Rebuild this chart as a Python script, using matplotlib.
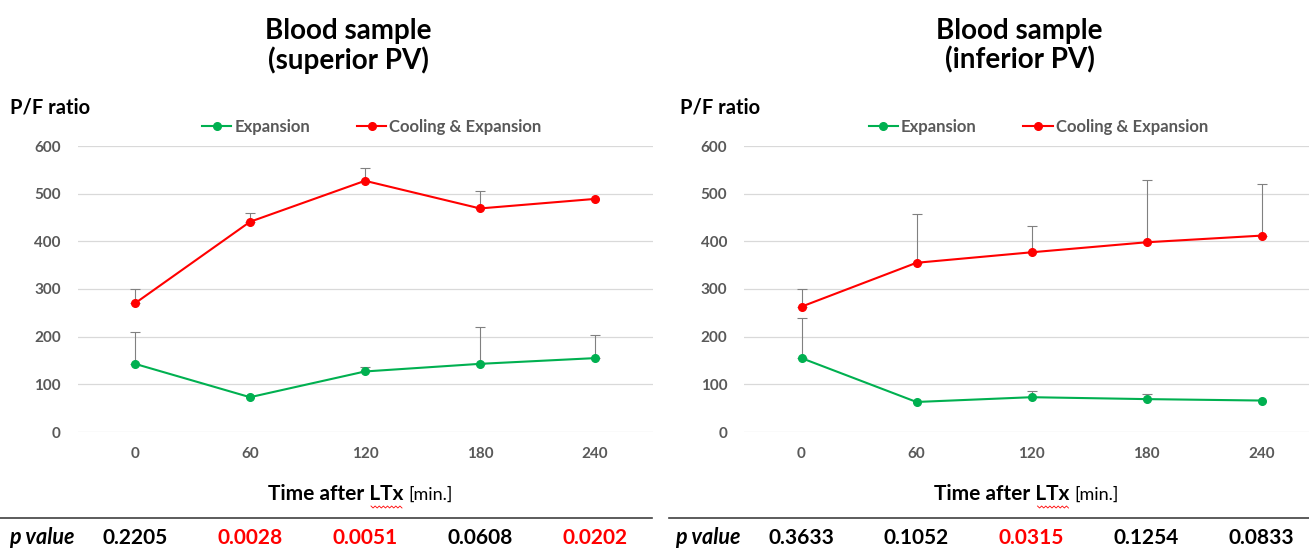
import numpy as np
import matplotlib.pyplot as plt
from matplotlib.lines import Line2D
import matplotlib.transforms as mtransforms

plt.rcParams['font.family'] = ['Lato', 'DejaVu Sans']

# ---- data -------------------------------------------------------------
time_labels = ['0', '60', '120', '180', '240']

sup_exp_mean = [143, 73, 127, 143, 155]
sup_exp_sd = [66, np.nan, 9, 77, 48]
sup_cool_mean = [270, 441, 527, 469, 489]
sup_cool_sd = [30, 19, 27, 37, np.nan]

inf_exp_mean = [155, 63, 73, 69, 66]
inf_exp_sd = [84, np.nan, 14, 10, np.nan]
inf_cool_mean = [263, 355, 377, 398, 412]
inf_cool_sd = [37, 103, 55, 131, 108]

sup_p = [0.2205, 0.0028, 0.0051, 0.0608, 0.0202]
inf_p = [0.3633, 0.1052, 0.0315, 0.1254, 0.0833]

titles = ['Blood sample\n(superior PV)', 'Blood sample\n(inferior PV)']

# ---- styling ----------------------------------------------------------
GREEN = '#00B050'
RED = '#FF0000'
GRAY_TXT = '#595959'
GRID = '#D9D9D9'
ERR = '#808080'

W, H = 1309, 549
fig = plt.figure(figsize=(W / 100, H / 100), dpi=100)


def px(x, y):
    """pixel position -> figure fraction"""
    return x / W, 1 - y / H


def panel(left_px, exp_mean, exp_sd, cool_mean, cool_sd, pvals, title):
    ax_w, top, bot = 575, 146, 432
    ax = fig.add_axes([left_px / W, 1 - bot / H, ax_w / W, (bot - top) / H])
    x = np.arange(len(time_labels))

    for mean, sd, col, lab in [(exp_mean, exp_sd, GREEN, 'Expansion'),
                               (cool_mean, cool_sd, RED, 'Cooling & Expansion')]:
        mean = np.asarray(mean, float)
        sd = np.asarray(sd, float)
        ok = np.isfinite(sd)
        ax.errorbar(x[ok], mean[ok], yerr=[np.zeros(ok.sum()), sd[ok]],
                    fmt='none', ecolor=ERR, elinewidth=0.8, capsize=3.5,
                    capthick=0.8, zorder=2)
        ax.plot(x, mean, color=col, lw=1.5, marker='o', markersize=5.5,
                label=lab, zorder=3)

    ax.set_xlim(-0.5, 4.5)
    ax.set_ylim(0, 600)
    ax.set_yticks(range(0, 601, 100))
    ax.set_xticks(x)
    ax.set_xticklabels(time_labels)
    ax.grid(axis='y', color=GRID, lw=0.9)
    ax.set_axisbelow(True)
    for s in ax.spines.values():
        s.set_visible(False)
    ax.tick_params(length=0, labelsize=11, labelcolor=GRAY_TXT)
    ax.tick_params(axis='y', pad=12)
    ax.tick_params(axis='x', pad=11)
    for t in ax.get_xticklabels() + ax.get_yticklabels():
        t.set_fontweight('bold')

    leg = ax.legend(loc='center', bbox_to_anchor=(0.512, 1.066), ncol=2,
                    frameon=False, fontsize=12, handlelength=1.75,
                    handletextpad=0.2, columnspacing=2.8,
                    labelcolor=GRAY_TXT, borderaxespad=0, borderpad=0)
    for t in leg.get_texts():
        t.set_fontweight('bold')

    off = left_px - 77.5
    # title
    fig.text(*px(348 + off + (5 if off else 0), 46), title, ha='center',
             va='center', fontsize=20, fontweight='bold', linespacing=1.12)
    # y label
    fig.text(*px(10 + off + (3 if off else 0), 108), 'P/F ratio', ha='left',
             va='center', fontsize=14.5, fontweight='bold')
    # x label (two sizes)
    fig.text(*px(403 + off, 494), 'Time after LTx', ha='right', va='center',
             fontsize=15, fontweight='bold')
    fig.text(*px(408 + off, 495), '[min.]', ha='left', va='center',
             fontsize=13)
    # spell-check squiggle under "LTx"
    zx = np.linspace(371 + off, 402 + off, 16)
    zy = 507 + np.where(np.arange(16) % 2 == 0, -1.0, 1.0)
    fig.add_artist(Line2D(zx / W, 1 - zy / H, color=RED, lw=0.6))

    # separator line above the p-value row
    x0, x1 = (0, 652) if off == 0 else (669, W)
    fig.add_artist(Line2D([x0 / W, x1 / W], [1 - 517.5 / H] * 2,
                          color='#404040', lw=1.2))

    # p-value row
    fig.text(*px(9 + off, 538), 'p value',
             ha='left', va='center', fontsize=15.5, fontweight='bold',
             style='italic')
    trans = mtransforms.blended_transform_factory(ax.transData, fig.transFigure)
    for xi, p in zip(x, pvals):
        ax.text(xi, 1 - 538 / H, f'{p:.4f}', transform=trans, ha='center',
                va='center', fontsize=15, fontweight='bold',
                color=RED if p < 0.05 else 'black', clip_on=False)
    return ax


panel(77.5, sup_exp_mean, sup_exp_sd, sup_cool_mean, sup_cool_sd, sup_p, titles[0])
panel(744.0, inf_exp_mean, inf_exp_sd, inf_cool_mean, inf_cool_sd, inf_p, titles[1])

fig.savefig('out.png', dpi=100)
